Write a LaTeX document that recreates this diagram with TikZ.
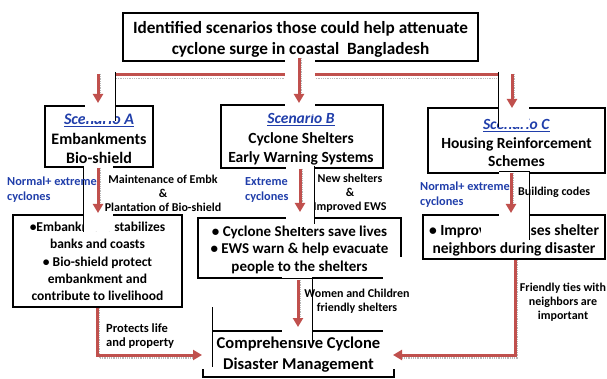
\documentclass[tikz,border=0pt]{standalone}
\usepackage{fontspec}
\setmainfont{Carlito}
\usetikzlibrary{arrows.meta}
\definecolor{ared}{RGB}{192,80,77}
\definecolor{sblue}{RGB}{32,62,170}
\newcommand\scenlab[1]{\textcolor{sblue}{\underline{\textit{#1}}}}
\begin{document}
\begin{tikzpicture}[x=1pt,y=-1pt,
  box/.style={draw=black,line width=2.4pt,inner sep=0pt},
  txt/.style={inner sep=0pt,align=center},
  fbig/.style={font=\fontsize{16}{19.5}\selectfont\bfseries},
  fmid/.style={font=\fontsize{15}{17.5}\selectfont\bfseries},
  lab/.style={font=\fontsize{12}{14}\selectfont\bfseries,align=center,inner sep=0pt},
  bluelab/.style={font=\fontsize{12.3}{15}\selectfont\bfseries,text=sblue,align=left,inner sep=0pt,anchor=base west},
  thinln/.style={draw=black,line width=0.8pt},
  rline/.style={draw=ared,line width=3pt},
  rarrow/.style={draw=ared,line width=3pt,-{Triangle[width=10pt,length=9pt]}},
  shade/.style={draw=gray!55,line width=1.5pt,dash pattern=on 1pt off 0.8pt}
]
\useasboundingbox (0,0) rectangle (607,379);

% boxes
\node[box,minimum width=355pt,minimum height=48pt] (top) at (300.5,37) {};
\node[box,minimum width=108pt,minimum height=61pt] (A) at (99,136.5) {};
\node[box,minimum width=162pt,minimum height=63pt] (B) at (302,136.5) {};
\node[box,minimum width=177pt,minimum height=65pt] (C) at (516.5,140.5) {};
\node[box,minimum width=169pt,minimum height=92pt] (BL) at (97.5,261) {};
\node[box,minimum width=203pt,minimum height=60pt] (BM) at (299.5,248) {};
\node[box,minimum width=182pt,minimum height=44pt] (BR) at (514,237) {};
\node[box,minimum width=191pt,minimum height=46pt] (D) at (298.5,354) {};

% box texts
\node[txt,font=\fontsize{17.2}{21}\selectfont\bfseries] (topt) at (300.5,39)
  {Identified scenarios those could help attenuate\\cyclone surge in coastal\ \ Bangladesh};
\node[txt,fbig] (At) at (99,138.5) {\scenlab{Scenario A}\\Embankments\\Bio-shield};
\node[txt,font=\fontsize{15.5}{19.5}\selectfont\bfseries] (Bt) at (301,139) {\scenlab{Scenario B}\\Cyclone Shelters\\Early Warning Systems};
\node[txt,font=\fontsize{15.5}{18.5}\selectfont\bfseries] (Ct) at (516.5,143) {\scenlab{Scenario C}\\Housing Reinforcement\\Schemes};
\node[txt,font=\fontsize{13.5}{17.3}\selectfont\bfseries] (BLt) at (97.5,261.5)
  {•Embankment stabilizes\\banks and coasts\\• Bio-shield protect\\embankment and\\contribute to livelihood};
\node[txt,fmid] (BMt) at (299.5,249.5)
  {• Cyclone Shelters save lives\\• EWS warn \& help evacuate\\people to the shelters};
\node[txt,font=\fontsize{15.5}{17.5}\selectfont\bfseries] (BRt) at (514,240.5)
  {• Improved houses shelter\\neighbors during disaster};
\node[txt,font=\fontsize{16.5}{21}\selectfont\bfseries] (Dt) at (298.5,355)
  {Comprehensive Cyclone\\Disaster Management};

% horizontal red bar
\coordinate (hl) at (98,75);
\coordinate (hr) at (512,75);
\draw[shade] ([yshift=-3.5pt]hl) -- ([yshift=-3.5pt]hr);
\draw[rline] (hl) -- (hr);

% white covers with thin edges
\fill[white] (85,72) rectangle (115,121);
\draw[thinln] (115,72) -- (115,121);
\fill[white] (285,57) rectangle (315,114);
\fill[white] (498,72) rectangle (529,127);
\draw[thinln] (498,72) -- (498,127);
\fill[white] (83,165) rectangle (113,231);
\draw[thinln] (83,166) -- (83,232);
\fill[white] (286,166) rectangle (314,227);
\draw[thinln] (314,166) -- (314,224);
\fill[white] (499,170) rectangle (529,236);
\fill[white] (481,222) rectangle (499,236);
\draw[thinln] (499,171) -- (529,171) -- (529,240);
\fill[white] (282,276.5) rectangle (312,340);
\draw[thinln] (282,278) -- (312,278) -- (312,346);
\fill[white] (190,307.5) rectangle (212,369);
\draw[thinln] (212,307) -- (212,367);
\fill[white] (383,257) rectangle (420,369);

% arrow end points
\coordinate (a1) at (98,74);   \coordinate (a1e) at (98,103);
\coordinate (b1) at (299,58); \coordinate (b1e) at (299,103);
\coordinate (c1) at (512,74);  \coordinate (c1e) at (512,108);
\coordinate (a2) at (98,168);  \coordinate (a2e) at (98,213);
\coordinate (b2) at (300,169); \coordinate (b2e) at (300,212);
\coordinate (c2) at (511,173); \coordinate (c2e) at (511,213);
\coordinate (m3) at (298,280); \coordinate (m3e) at (298,327);
\coordinate (l3) at (97,308);  \coordinate (l3c) at (97,355); \coordinate (l3e) at (202,355);
\coordinate (r3) at (515,260); \coordinate (r3c) at (515,355); \coordinate (r3e) at (393,355);

\foreach \s/\e in {a1/a1e,b1/b1e,c1/c1e,a2/a2e,b2/b2e,c2/c2e,m3/m3e}{
  \draw[shade] ([xshift=2.5pt]\s) -- ([xshift=2.5pt,yshift=6pt]\e);
  \draw[rarrow] (\s) -- (\e);
}
\draw[shade] ([xshift=2.5pt]l3) -- ([xshift=2.5pt,yshift=-3pt]l3c) -- ([xshift=-8pt,yshift=-3pt]l3e);
\draw[rarrow] (l3) -- (l3c) -- (l3e);
\draw[shade] ([xshift=2.5pt]r3) -- ([xshift=2.5pt,yshift=-3pt]r3c) -- ([xshift=8pt,yshift=-3pt]r3e);
\draw[rarrow] (r3) -- (r3c) -- (r3e);

% labels
\node[bluelab] (nA) at (7,201) {Normal+ extreme\\cyclones};
\node[bluelab] (nB) at (245,201) {Extreme\\cyclones};
\node[bluelab] (nC) at (420,206) {Normal+ extreme\\cyclones};
\node[lab] (mA) at (163,193) {Maintenance of Embk\\\&\\Plantation of Bio-shield};
\node[lab] (mB) at (350,193) {New shelters\\\&\\Improved EWS};
\node[lab,anchor=base west] (mC) at (518,196) {Building codes};
\node[lab] (wc) at (357,301) {Women and Children\\friendly shelters};
\node[lab] (ft) at (563,302.5) {Friendly ties with\\neighbors are\\important};
\node[lab,align=left,anchor=base west,font=\fontsize{12.5}{13.5}\selectfont\bfseries] (pl) at (106,346) {Protects life\\and property};
\end{tikzpicture}
\end{document}
